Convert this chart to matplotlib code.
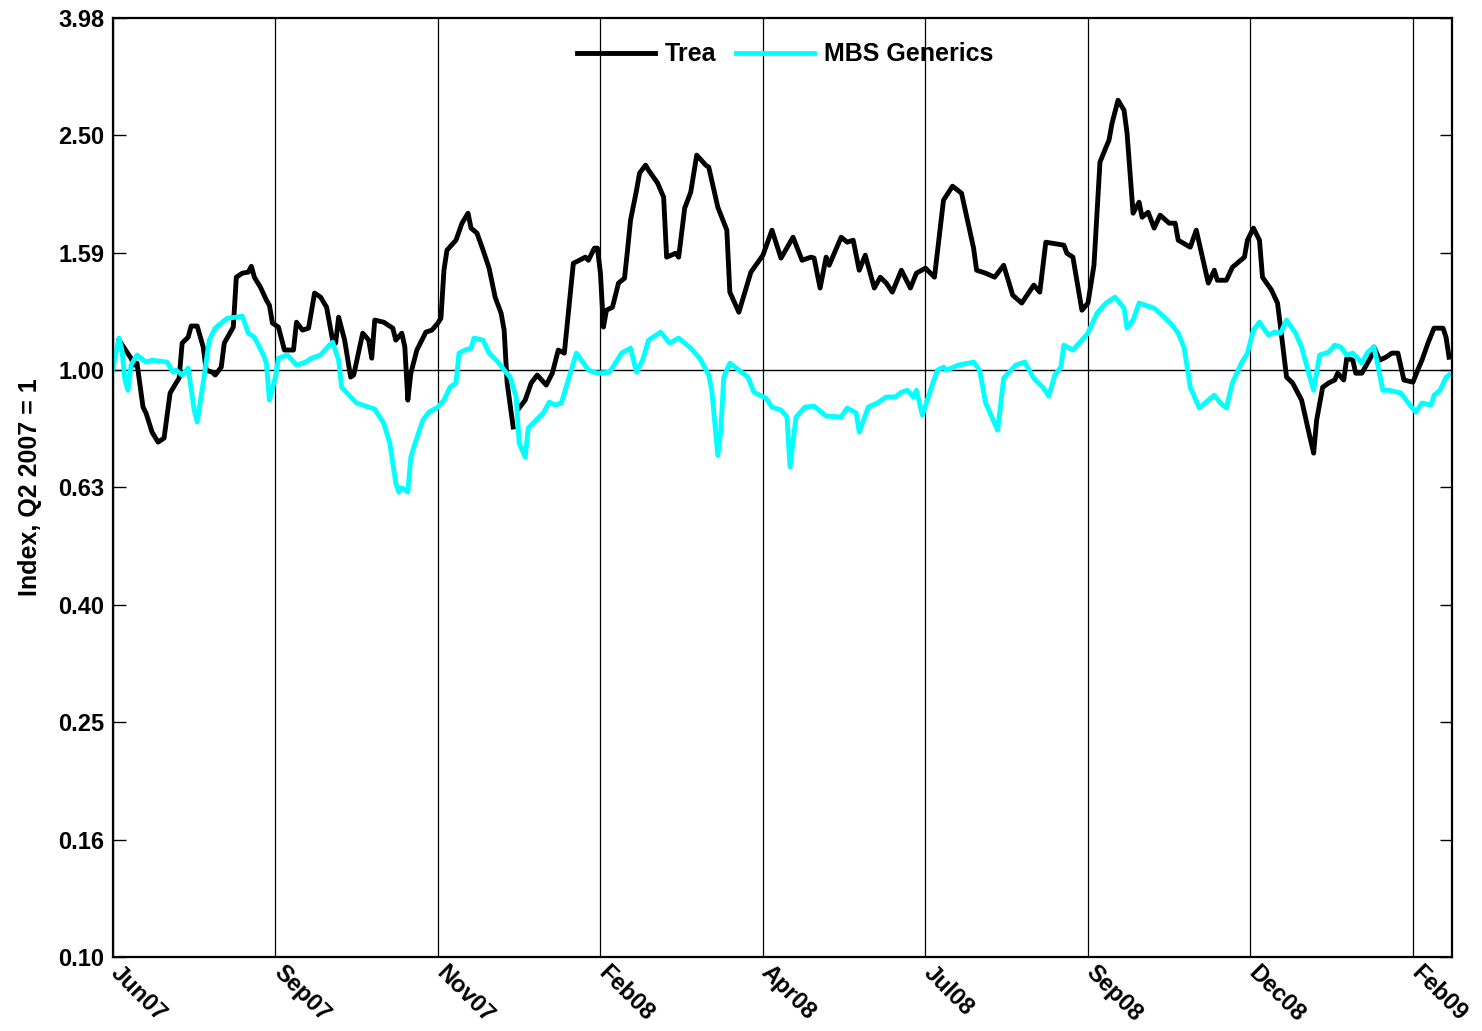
import numpy as np
import matplotlib.pyplot as plt
import matplotlib.transforms as mtransforms
from matplotlib.ticker import FixedLocator, FixedFormatter, NullLocator

plt.rcParams['font.family'] = ['Liberation Sans', 'DejaVu Sans']
plt.rcParams['font.weight'] = 'bold'

# x轴: 交易日序号, 每54个交易日一个刻度
tick_days = [0, 54, 108, 162, 216, 270, 324, 378, 432]
tick_labels = ['Jun07', 'Sep07', 'Nov07', 'Feb08', 'Apr08', 'Jul08', 'Sep08', 'Dec08', 'Feb09']

# y轴刻度 (对数坐标)
ytick_vals = [0.1, 0.158, 0.251, 0.398, 0.631, 1.0, 1.585, 2.512, 3.981]
ytick_labels = ['0.10', '0.16', '0.25', '0.40', '0.63', '1.00', '1.59', '2.50', '3.98']

# Trea 指数 (Q2 2007 = 1)
trea_days = [2, 6, 7, 8, 10, 11, 13, 15, 17, 19, 21, 22, 23, 25, 26, 28, 30, 31, 33, 34,
             36, 37, 40, 41, 43, 45, 46, 47, 49, 51, 52, 53, 55, 57, 60, 61, 63, 65, 67, 69,
             71, 73, 74, 75, 77, 79, 80, 83, 85, 86, 87, 90, 93, 94, 96, 97, 98, 99, 101, 104,
             106, 108, 109, 110, 111, 114, 116, 118, 119, 121, 123, 125, 127, 129, 130, 131, 133, 134,
             135, 137, 139, 141, 144, 146, 148, 150, 153, 155, 157, 158, 160, 161, 162, 163, 164, 166,
             168, 170, 171, 172, 174, 175, 177, 178, 181, 183, 184, 187, 188, 190, 192, 194, 197, 198,
             201, 204, 205, 208, 212, 216, 219, 222, 226, 229, 232, 233, 235, 237, 238, 242, 244, 246,
             248, 250, 253, 255, 257, 259, 262, 265, 267, 270, 273, 276, 279, 282, 286, 287, 290, 293,
             296, 299, 302, 306, 308, 310, 316, 317, 319, 322, 324, 326, 328, 330, 331, 332, 334, 336,
             337, 339, 341, 342, 344, 346, 348, 351, 353, 354, 358, 360, 364, 366, 367, 370, 372, 376,
             377, 379, 381, 382, 385, 387, 388, 390, 392, 395, 397, 399, 400, 402, 404, 406, 407, 409,
             410, 412, 413, 415, 418, 419, 421, 423, 425, 427, 429, 432, 434, 435, 437, 439, 442, 443, 444]
trea_vals = [1.125, 1.048, 1.020, 1.028, 0.865, 0.845, 0.784, 0.754, 0.766, 0.914, 0.951, 0.969, 1.112, 1.138, 1.189, 1.189, 1.095, 1.000, 0.992, 0.981,
             1.012, 1.112, 1.184, 1.440, 1.463, 1.469, 1.503, 1.440, 1.385, 1.316, 1.290, 1.203, 1.184, 1.082, 1.082, 1.207, 1.170, 1.179, 1.353, 1.332,
             1.280, 1.125, 1.112, 1.231, 1.125, 0.973, 0.981, 1.156, 1.125, 1.048, 1.217, 1.207, 1.179, 1.125, 1.156, 1.095, 0.889, 0.988, 1.082, 1.161,
             1.170, 1.203, 1.226, 1.480, 1.601, 1.665, 1.780, 1.851, 1.746, 1.711, 1.601, 1.492, 1.332, 1.250, 1.170, 0.951, 0.800, np.nan,
             0.862, 0.889, 0.951, 0.981, 0.943, 0.988, 1.082, 1.069, 1.521, 1.539, 1.558, 1.539, 1.614, 1.614, 1.463, 1.184, 1.265, 1.280,
             1.407, 1.434, 1.601, 1.801, 2.026, 2.166, 2.235, 2.191, 2.083, 1.971, 1.558, 1.582, 1.558, 1.888, 2.010, 2.325, 2.235, 2.217,
             1.896, 1.732, 1.358, 1.255, 1.469, 1.570, 1.732, 1.552, 1.685, 1.539, 1.558, 1.552, 1.380, 1.558, 1.509, 1.685, 1.652, 1.665,
             1.480, 1.570, 1.380, 1.440, 1.407, 1.358, 1.480, 1.380, 1.463, 1.492, 1.440, 1.948, 2.058, 2.002, 1.614, 1.480, 1.463, 1.440,
             1.509, 1.342, 1.301, 1.396, 1.358, 1.652, 1.633, 1.582, 1.558, 1.265, 1.301, 1.509, 2.262, 2.398, 2.465, 2.634, 2.884, 2.773,
             2.534, 1.851, 1.933, 1.822, 1.858, 1.746, 1.837, 1.780, 1.780, 1.665, 1.620, 1.732, 1.407, 1.480, 1.423, 1.423, 1.497, 1.558,
             1.665, 1.746, 1.665, 1.440, 1.369, 1.301, 1.184, 0.973, 0.951, 0.889, 0.800, 0.722, 0.822, 0.935, 0.951, 0.962, 0.988, 0.962,
             1.048, 1.040, 0.988, 0.988, 1.052, 1.095, 1.040, 1.052, 1.069, 1.069, 0.962, 0.954, 1.012, 1.040, 1.112, 1.179, 1.179, 1.138, 1.052]

# MBS Generics 指数
mbs_days = [0, 2, 3, 4, 5, 6, 8, 11, 13, 18, 20, 21, 23, 25, 27, 28, 30, 32, 34, 36,
            38, 41, 43, 45, 47, 50, 51, 52, 54, 55, 58, 61, 64, 66, 69, 71, 73, 75, 76, 79,
            81, 85, 87, 90, 92, 94, 95, 96, 98, 99, 100, 103, 105, 108, 110, 112, 114, 115, 117, 119,
            120, 123, 125, 128, 130, 132, 134, 135, 137, 138, 140, 143, 145, 147, 149, 151, 154, 155, 158, 161,
            165, 167, 169, 172, 174, 176, 178, 182, 185, 188, 192, 195, 198, 199, 201, 202, 203, 205, 208, 211,
            213, 217, 219, 222, 224, 225, 227, 230, 233, 237, 242, 244, 247, 248, 251, 254, 257, 260, 262, 264,
            266, 267, 269, 272, 274, 276, 277, 281, 286, 288, 290, 294, 296, 300, 303, 306, 309, 311, 313, 315,
            316, 319, 322, 324, 327, 330, 333, 336, 337, 339, 341, 344, 346, 349, 352, 354, 356, 358, 361, 364,
            366, 368, 370, 372, 375, 377, 379, 381, 384, 386, 388, 390, 393, 395, 398, 399, 401, 404, 406, 408,
            410, 412, 415, 417, 419, 420, 422, 424, 428, 431, 433, 435, 438, 439, 441, 443, 444]
mbs_vals = [1.008, 1.134, 1.082, 0.962, 0.924, 1.020, 1.061, 1.032, 1.040, 1.032, 0.992, 1.000, 0.981, 1.008, 0.855, 0.816, 0.951, 1.125, 1.179, 1.203,
            1.226, 1.231, 1.236, 1.156, 1.138, 1.061, 1.028, 0.889, 0.973, 1.048, 1.061, 1.020, 1.032, 1.048, 1.061, 1.090, 1.116, 1.040, 0.935, 0.900,
            0.879, 0.865, 0.858, 0.812, 0.751, 0.642, 0.620, 0.630, 0.620, 0.711, 0.739, 0.822, 0.848, 0.865, 0.889, 0.935, 0.951, 1.069, 1.082, 1.090,
            1.134, 1.125, 1.069, 1.032, 1.000, 0.973, 0.900, 0.751, 0.711, 0.796, 0.816, 0.845, 0.882, 0.872, 0.879, 0.951, 1.069, 1.052, 1.000, 0.988,
            0.992, 1.028, 1.069, 1.090, 0.992, 1.040, 1.125, 1.161, 1.112, 1.134, 1.090, 1.048, 0.981, 0.924, 0.716, 0.790, 0.973, 1.028, 1.000, 0.973,
            0.917, 0.896, 0.865, 0.855, 0.832, 0.684, 0.832, 0.865, 0.868, 0.835, 0.832, 0.862, 0.845, 0.784, 0.865, 0.879, 0.900, 0.900, 0.917, 0.924,
            0.900, 0.924, 0.838, 0.935, 1.000, 1.012, 1.000, 1.020, 1.032, 1.000, 0.879, 0.790, 0.969, 1.020, 1.032, 0.969, 0.935, 0.903, 0.981, 1.012,
            1.103, 1.082, 1.125, 1.156, 1.250, 1.301, 1.332, 1.275, 1.179, 1.217, 1.301, 1.285, 1.275, 1.236, 1.193, 1.156, 1.090, 0.935, 0.862, 0.889,
            0.906, 0.879, 0.862, 0.951, 1.028, 1.069, 1.170, 1.207, 1.147, 1.161, 1.156, 1.217, 1.156, 1.095, 0.962, 0.924, 1.061, 1.073, 1.103, 1.095,
            1.061, 1.069, 1.028, 1.073, 1.095, 1.040, 0.924, 0.924, 0.914, 0.872, 0.848, 0.879, 0.872, 0.906, 0.924, 0.973, 0.981]

fig = plt.figure(figsize=(14.82, 10.31), dpi=100)
ax = fig.add_axes([0.0762, 0.0718, 0.9036, 0.9107])

ax.plot(trea_days, trea_vals, color='black', linewidth=3.5, label='Trea')
ax.plot(mbs_days, mbs_vals, color='#00ffff', linewidth=3.5, label='MBS Generics')
ax.axhline(1.0, color='black', linewidth=1.0, zorder=1)

# 对数坐标
ax.set_yscale('log')
ax.set_ylim(ytick_vals[0], ytick_vals[-1])
ax.yaxis.set_major_locator(FixedLocator(ytick_vals))
ax.yaxis.set_major_formatter(FixedFormatter(ytick_labels))
ax.yaxis.set_minor_locator(NullLocator())

ax.set_xlim(0, 445)
ax.set_xticks(tick_days)
ax.grid(axis='x', color='black', linewidth=0.9)
ax.set_axisbelow(True)

ax.tick_params(axis='y', direction='in', length=9, width=1, left=True, right=True,
               labelsize=17, pad=6)
ax.tick_params(axis='x', length=0, pad=3)
for s in ax.spines.values():
    s.set_linewidth(1.6)

# tick_params 会重置标签的 transform, 所以放在它后面
ax.set_xticklabels(tick_labels, rotation=-45, ha='left', va='top',
                   rotation_mode='anchor', fontsize=17, fontweight='bold')
shift = mtransforms.ScaledTranslation(7 / 72, 0, fig.dpi_scale_trans)
for lab in ax.get_xticklabels():
    lab.set_transform(lab.get_transform() + shift)

ax.set_ylabel('Index, Q2 2007 = 1', fontsize=18, fontweight='bold', labelpad=12)

ax.legend(loc='upper center', bbox_to_anchor=(0.502, 0.998), ncol=2, frameon=False,
          handlelength=3.1, columnspacing=0.8, handletextpad=0.4,
          prop={'weight': 'bold', 'size': 18})

plt.savefig('out.png', dpi=100)
